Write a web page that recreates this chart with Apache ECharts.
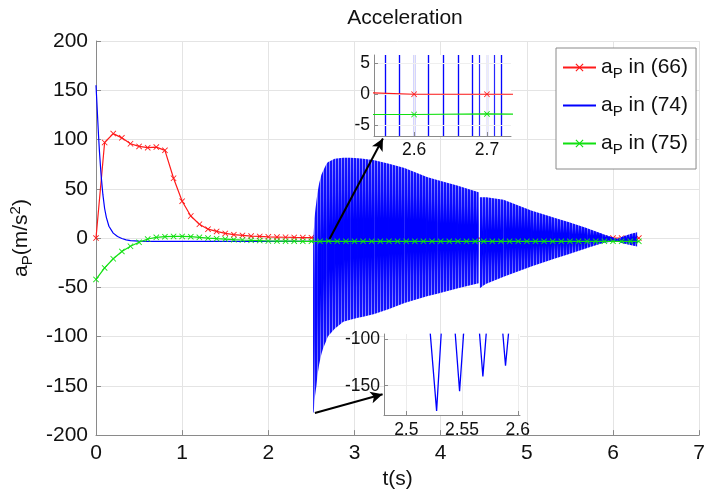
<!DOCTYPE html>
<html><head><meta charset="utf-8">
<script src="https://cdn.jsdelivr.net/npm/echarts@6/dist/echarts.min.js"></script>
<style>html,body{margin:0;padding:0;background:#fff}#c{width:708px;height:495px}</style>
</head><body><div id="c"></div>
<script>
// ---------------- data ----------------
const markerT = [0,0.1,0.2,0.3,0.4,0.5,0.6,0.7,0.8,0.9,1.0,1.1,1.2,1.3,1.4,1.5,1.6,1.7,1.8,1.9,2.0,
  2.1,2.2,2.3,2.4,2.5,2.6,2.7,2.8,2.9,3.0,3.1,3.2,3.3,3.4,3.5,3.6,3.7,3.8,3.9,4.0,
  4.1,4.2,4.3,4.4,4.5,4.6,4.7,4.8,4.9,5.0,5.1,5.2,5.3,5.4,5.5,5.6,5.7,5.8,5.9,6.0,6.1,6.2,6.3];
const red66 = [0,97,106,101.7,95.7,93,91.7,92.3,89,60.7,37.4,22.4,14,9,6.7,4.7,3.4,2.7,2,1.7,1.2,
  1,0.8,0.6,0.5,0.4,0,0,0,0,0,0,0,0,0,0,0,0,0,0,0,
  0,0,0,0,0,0,0,0,0,0,0,0,0,0,0,0,0,0,0,0,0,0,0];
const green75 = [-42,-30.3,-21,-13.6,-8.3,-4.3,-1,0.7,1.4,1.7,1.7,1.4,0.7,0,-0.6,-1,-1.6,-2,-2.3,-2.6,-3,
  -3.1,-3.2,-3.2,-3.3,-3.3,-3.3,-3.2,-3.3,-3.3,-3.3,-3.3,-3.3,-3.3,-3.3,-3.3,-3.3,-3.3,-3.3,-3.3,-3.3,
  -3.3,-3.3,-3.3,-3.3,-3.3,-3.3,-3.3,-3.3,-3.3,-3.3,-3.3,-3.3,-3.3,-3.3,-3.3,-3.3,-3.3,-3.3,-3.3,-3.3,-3.3,-3.3,-3.3];
const blueT = [0,0.01,0.02,0.03,0.04,0.05,0.06,0.08,0.1,0.12,0.15,0.2,0.25,0.3,0.35,0.4,0.5,0.6,1.0,1.5,2.0,2.52];
const blue74 = [155,138,120,103,88,75,63,44,30,21,12,5,1.5,-0.5,-1.8,-2.6,-3.1,-3.3,-3.3,-3.3,-3.3,-3.3];
// envelope of the fast oscillation of (74), two pieces around the break near t = 4.45
const bandT1 = [2.52,2.527,2.535,2.548,2.558,2.569,2.589,2.615,2.635,2.673,2.69,2.77,2.87,2.95,3.04,3.1,3.23,3.4,3.58,3.84,3.96,4.2,4.44];
const bandUpper1 = [-3,5,20,30,37,45,55,64,68,75,77,80.5,81.5,81.5,81,80.5,79,75.5,71,62,59,53,46.5];
const bandLower1 = [-177,-177,-165,-156,-150,-140,-128.6,-118,-112,-104,-100,-92,-85,-83,-81,-80,-77,-72,-66,-59,-56.6,-51,-46];
const bandT2 = [4.455,4.5,4.53,4.73,5.05,5.3,5.5,5.7,5.88,6.0,6.05,6.1,6.2,6.28];
const bandUpper2 = [41.5,41.5,41.3,39,28,21,15.7,10,4,0.5,-1,1,4,6];
const bandLower2 = [-51,-48,-46.5,-39.3,-29,-21.5,-16,-10,-5,-3.5,-3,-5,-7,-8.5];
// top inset: times where (74) crosses the inset's range
const spikeCrossT = [2.5578,2.5615,2.577,2.5807,2.5968,2.6004,2.6161,2.6197,2.6358,2.6395,
  2.6554,2.6587,2.6752,2.6784,2.6945,2.6981,2.7142,2.7179,2.7238];
// bottom inset: negative peaks of (74)
const dipT = [2.5215,2.5272,2.5313,null,2.5439,2.5478,2.5514,null,2.5657,2.5687,2.5717,null,2.5866,2.589,2.5917];
const dipV = [-94,-177,-94,null,-94,-156,-94,null,-94,-140,-94,null,-94,-128.6,-94];
// arrows (data coordinates of main axes)
const arrowFrom = [[2.71,-1],[2.54,-177.6]];
const arrowTo = [[3.33,101],[3.326,-158.6]];
const seriesNames = ['a_P in (66)','a_P in (74)','a_P in (75)'];
const legendNums = ['66','74','75'];

// ---------------- chart ----------------
const FONT = '"Liberation Sans", Arial, Helvetica, sans-serif';
const RED = '#ff1a1a', BLUE = '#0000ff', GREEN = '#10e010';
const xMark = 'path://M0,1L1,0L5,4L9,0L10,1L6,5L10,9L9,10L5,6L1,10L0,9L4,5Z';
const lineIcon = 'path://M0,0L0.01,0L0,0.01Z M0,4.1L33,4.1L33,5.9L0,5.9Z M33,10L32.99,10L33,9.99Z';
const AX = '#8a8a8a', GRIDC = '#e4e4e4';
function pairs(xs, ys){ return xs.map((x,i)=> (x===null||ys[i]===null) ? ['-','-'] : [x, ys[i]]); }
const bandSegs = [{t:bandT1,u:bandUpper1,l:bandLower1},{t:bandT2,u:bandUpper2,l:bandLower2}];

// striped fill that imitates the dense vertical oscillation lines
const stripeCanvas = document.createElement('canvas');
stripeCanvas.width = 3; stripeCanvas.height = 4;
(function(){ const c = stripeCanvas.getContext('2d');
  c.fillStyle = '#1414ff'; c.fillRect(0,0,3,4);
  c.fillStyle = '#9a9aff'; c.fillRect(2,0,1,4); })();
const stripePattern = {image: stripeCanvas, repeat: 'repeat'};

function renderBand(params, api){
  const seg = bandSegs[api.value(0)];
  const children = [];
  const up = [], lo = [];
  for (let i=0;i<seg.t.length;i++){ up.push(api.coord([seg.t[i], seg.u[i]])); lo.push(api.coord([seg.t[i], seg.l[i]])); }
  children.push({type:'polygon', shape:{points: up.concat(lo.slice().reverse())}, style:{fill: stripePattern}});
  for (let i=0;i<seg.t.length-1;i++){
    const g = new echarts.graphic.LinearGradient(0,0,0,1,[
      {offset:0,color:'rgba(0,0,255,0.05)'},{offset:0.2,color:'rgba(0,0,255,0.45)'},
      {offset:0.38,color:'rgba(0,0,255,1)'},{offset:0.62,color:'rgba(0,0,255,1)'},
      {offset:0.8,color:'rgba(0,0,255,0.45)'},{offset:1,color:'rgba(0,0,255,0.05)'}]);
    children.push({type:'polygon', shape:{points:[up[i],up[i+1],lo[i+1],lo[i]]}, style:{fill:g}});
  }
  return {type:'group', children};
}

function axisCommon(fs, gc){
  return {
    axisLine:{show:true,onZero:false,lineStyle:{color:AX,width:1}},
    axisTick:{show:true,inside:true,length:5,lineStyle:{color:AX}},
    axisLabel:{fontSize:fs,color:'#111',fontFamily:FONT},
    splitLine:{show:true,lineStyle:{color:gc||GRIDC,width:1}}
  };
}

const option = {
  animation:false,
  backgroundColor:'#fff',
  title:{text:'Acceleration',left:400,textAlign:'center',top:3,
    textStyle:{fontSize:21,fontWeight:'normal',color:'#111',fontFamily:FONT}},
  legend:{
    data:[{name:seriesNames[0]},{name:seriesNames[1],icon:lineIcon},{name:seriesNames[2]}],
    orient:'vertical', left:556, top:48,
    backgroundColor:'#fff', borderColor:'#8a8a8a', borderWidth:1,
    padding:[9,8,12,6], itemGap:14, itemWidth:33, itemHeight:10, selectedMode:false,
    formatter:function(name){ const k=seriesNames.indexOf(name); return '{a|a}{s|P}{a| in ('+legendNums[k]+')}'; },
    textStyle:{color:'#111',fontFamily:FONT,
      rich:{a:{fontSize:21,fontFamily:FONT,color:'#111'},s:{fontSize:15,fontFamily:FONT,color:'#111',padding:[12,0,0,0]}}}
  },
  grid:[
    {left:96,top:41,right:4,bottom:54,containLabel:false},
    {left:374,top:55,width:137,height:81,show:true,backgroundColor:'#fff',borderWidth:0,z:5},
    {left:384,top:334,width:136,height:81,show:true,backgroundColor:'#fff',borderWidth:0,z:5}
  ],
  xAxis:[
    Object.assign(axisCommon(21),{type:'value',gridIndex:0,min:0,max:7,interval:1,
      name:'t(s)',nameLocation:'middle',nameGap:30,nameTextStyle:{fontSize:21,color:'#111',fontFamily:FONT}}),
    Object.assign(axisCommon(17.5,'#efefef'),{type:'value',gridIndex:1,min:2.545,max:2.733,z:6,
      axisTick:{show:true,inside:true,length:4,lineStyle:{color:AX},customValues:[2.6,2.7]},
      axisLabel:{fontSize:17.5,color:'#111',fontFamily:FONT,customValues:[2.6,2.7],margin:5}}),
    Object.assign(axisCommon(17.5,'#ececec'),{type:'value',gridIndex:2,min:2.48,max:2.602,z:6,
      axisTick:{show:true,inside:true,length:4,lineStyle:{color:AX},customValues:[2.5,2.55,2.6]},
      axisLabel:{fontSize:17.5,color:'#111',fontFamily:FONT,customValues:[2.5,2.55,2.6],margin:6}})
  ],
  yAxis:[
    Object.assign(axisCommon(21),{type:'value',gridIndex:0,min:-200,max:200,interval:50,
      name:'{a|a}{s|P}{a|(m/s}{p|2}{a|)}',nameLocation:'middle',nameRotate:90,nameGap:53,
      nameTextStyle:{color:'#111',fontFamily:FONT,rich:{
        a:{fontSize:21,fontFamily:FONT,color:'#111'},
        s:{fontSize:15,fontFamily:FONT,color:'#111',padding:[12,0,0,0]},
        p:{fontSize:15,fontFamily:FONT,color:'#111',padding:[0,0,12,0]}}}}),
    Object.assign(axisCommon(17.5,'#efefef'),{type:'value',gridIndex:1,min:-6.8,max:6.4,z:6,
      axisTick:{show:true,inside:true,length:4,lineStyle:{color:AX},customValues:[-5,0,5]},
      axisLabel:{fontSize:17.5,color:'#111',fontFamily:FONT,customValues:[-5,0,5],margin:4}}),
    Object.assign(axisCommon(17.5,'#ececec'),{type:'value',gridIndex:2,min:-181.4,max:-94.6,z:6,
      axisTick:{show:true,inside:true,length:4,lineStyle:{color:AX},customValues:[-150,-100]},
      axisLabel:{fontSize:17.5,color:'#111',fontFamily:FONT,customValues:[-150,-100],margin:4}})
  ],
  series:[
    {name:seriesNames[0],type:'line',xAxisIndex:0,yAxisIndex:0,data:pairs(markerT,red66),
      symbol:xMark,symbolSize:6,showAllSymbol:true,z:2,
      lineStyle:{color:RED,width:1.2},itemStyle:{color:RED}},
    {name:seriesNames[1],type:'line',xAxisIndex:0,yAxisIndex:0,data:pairs(blueT,blue74),
      symbol:'none',z:3,lineStyle:{color:BLUE,width:1.2},itemStyle:{color:BLUE}},
    {name:'band74',type:'custom',xAxisIndex:0,yAxisIndex:0,data:[[0],[1]],renderItem:renderBand,z:3,silent:true},
    {name:seriesNames[2],type:'line',xAxisIndex:0,yAxisIndex:0,data:pairs(markerT,green75),
      symbol:xMark,symbolSize:6,showAllSymbol:true,z:4,
      lineStyle:{color:GREEN,width:1.2},itemStyle:{color:GREEN},
      markLine:{silent:true,symbol:['none','arrow'],symbolSize:[9,12],label:{show:false},
        lineStyle:{color:'#000',width:2,type:'solid'},emphasis:{disabled:true},
        data:arrowFrom.map((p,i)=>[{coord:p},{coord:arrowTo[i]}])}},
    // top inset
    {name:'r_in',type:'line',xAxisIndex:1,yAxisIndex:1,data:pairs(markerT,red66),clip:true,
      symbol:xMark,symbolSize:6,showAllSymbol:true,z:6,
      lineStyle:{color:RED,width:1.2},itemStyle:{color:RED}},
    {name:'b_in',type:'line',xAxisIndex:1,yAxisIndex:1,data:[],z:7,
      markLine:{silent:true,symbol:['none','none'],label:{show:false},emphasis:{disabled:true},
        lineStyle:{color:BLUE,width:1.2,type:'solid',opacity:0.85},
        data:spikeCrossT.map(t=>({xAxis:t}))}},
    {name:'g_in',type:'line',xAxisIndex:1,yAxisIndex:1,data:pairs(markerT,green75),clip:true,
      symbol:xMark,symbolSize:6,showAllSymbol:true,z:8,
      lineStyle:{color:GREEN,width:1.2},itemStyle:{color:GREEN}},
    // bottom inset
    {name:'b_in2',type:'line',xAxisIndex:2,yAxisIndex:2,data:pairs(dipT,dipV),clip:true,
      symbol:'none',connectNulls:false,z:7,lineStyle:{color:BLUE,width:1.3}}
  ]
};
const chart = echarts.init(document.getElementById('c'));
chart.setOption(option);
</script></body></html>
